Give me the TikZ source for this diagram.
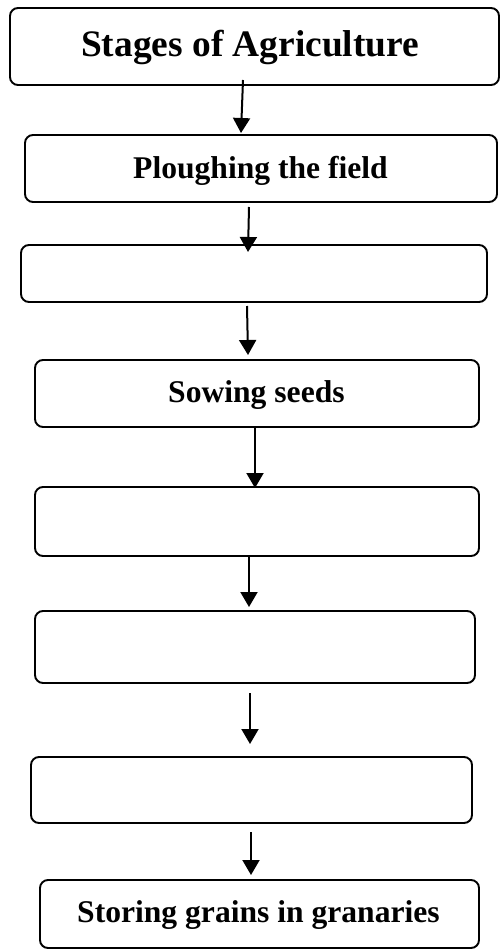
\documentclass[tikz,border=0pt]{standalone}
\usepackage{fontspec}
\setmainfont{Liberation Serif}
\usetikzlibrary{arrows.meta}
\tikzset{
  stagebox/.style={draw=black, line width=1.9pt, rounded corners=8pt, inner sep=0pt, outer sep=0pt},
  arr/.style={line width=2pt, -{Triangle[length=15pt,width=17pt]}},
  ttl/.style={anchor=base west, inner sep=0pt, font=\bfseries\fontsize{37.4}{44}\selectfont},
  lbl/.style={anchor=base west, inner sep=0pt, font=\bfseries\fontsize{31.6}{38}\selectfont}
}
\begin{document}
\begin{tikzpicture}[x=1pt, y=-1pt]
\useasboundingbox (0,0) rectangle (500,949);
\node[stagebox, minimum width=489pt, minimum height=77pt] (b1) at (254.5,46.5) {};
\node[stagebox, minimum width=472pt, minimum height=67pt] (b2) at (261,168.5) {};
\node[stagebox, minimum width=466pt, minimum height=57pt] (b3) at (254,273.5) {};
\node[stagebox, minimum width=444pt, minimum height=67pt] (b4) at (257,393.5) {};
\node[stagebox, minimum width=444pt, minimum height=69pt] (b5) at (257,521.5) {};
\node[stagebox, minimum width=440pt, minimum height=72pt] (b6) at (255,647) {};
\node[stagebox, minimum width=441pt, minimum height=66pt] (b7) at (251.5,790) {};
\node[stagebox, minimum width=439pt, minimum height=68pt] (b8) at (259.5,914) {};

\node[ttl] (t1) at (81,57) {Stages of Agriculture};
\node[lbl] (t2) at (133,179) {Ploughing the field};
\node[lbl] (t4) at (168,402) {Sowing seeds};
\node[lbl] (t8) at (77,922) {Storing grains in granaries};

\draw[arr] ([shift={(-11.5,-5)}]b1.south) -- ([shift={(-20,-2)}]b2.north);
\draw[arr] ([shift={(-12,5)}]b2.south) -- ([shift={(-6,7)}]b3.north);
\draw[arr] ([shift={(-7,4)}]b3.south) -- ([shift={(-9,-5)}]b4.north);
\draw[arr] ([shift={(-2,0)}]b4.south) -- ([shift={(-2,1)}]b5.north);
\draw[arr] ([shift={(-8,0)}]b5.south) -- ([shift={(-6,-4)}]b6.north);
\draw[arr] ([shift={(-5,10)}]b6.south) -- ([shift={(-1.5,-13)}]b7.north);
\draw[arr] ([shift={(-0.5,9)}]b7.south) -- ([shift={(-8.5,-5)}]b8.north);
\end{tikzpicture}
\end{document}
